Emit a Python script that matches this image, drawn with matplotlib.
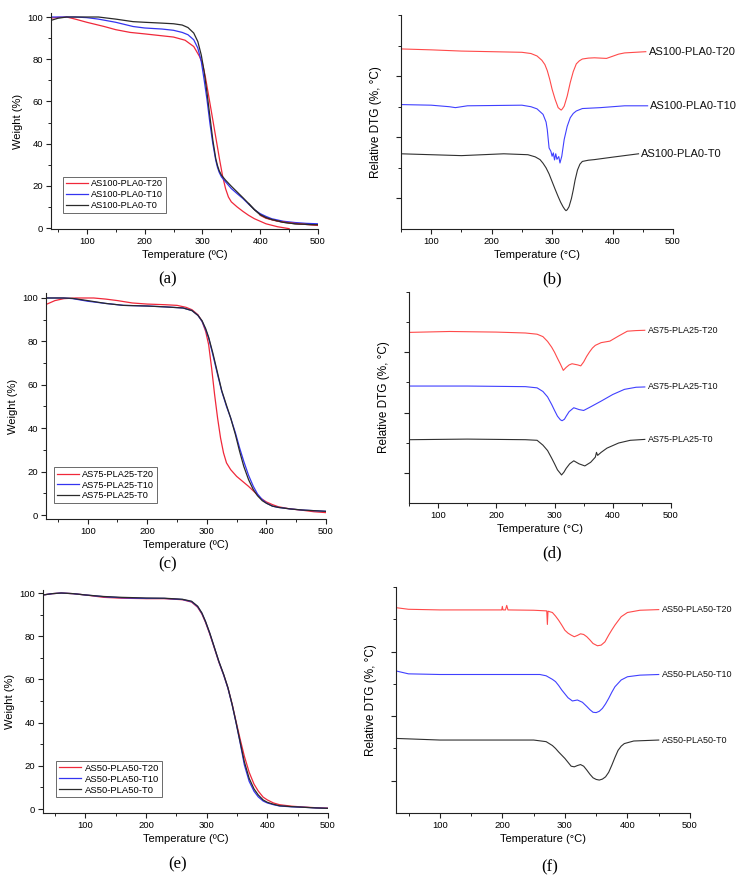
import matplotlib
matplotlib.use('Agg')
import matplotlib.pyplot as plt
from matplotlib.ticker import MultipleLocator, FixedLocator, NullFormatter

plt.rcParams['font.family'] = ['Liberation Sans', 'DejaVu Sans']

RED = '#f0283a'
BLUE = '#3434f0'
BLACK = '#2a2a2a'

# ---------------- Panel (a): TGA AS100-PLA0 ----------------
a_names = ['AS100-PLA0-T20', 'AS100-PLA0-T10', 'AS100-PLA0-T0']
a_T20_t = [38, 50, 65, 80, 100, 130, 150, 175, 200, 250, 270, 285, 295, 300, 305, 310, 315, 320, 325, 330, 335,
           340, 345, 350, 360, 370, 380, 390, 400, 410, 420, 430, 440, 450]
a_T20_w = [99.5, 99.8, 100, 99.0, 97.5, 95.5, 94.0, 92.7, 92.0, 90.5, 89.0, 86.0, 81.3, 78.0, 71.8, 63.9, 56.0, 48.0,
           40.0, 32.0, 24.5, 18.7, 14.7, 12.4, 10.0, 7.9, 6.0, 4.4, 3.2, 2.0, 1.3, 0.6, 0.15, -0.3]
a_T20tail_t = [400, 410, 430, 450, 470, 500]
a_T20tail_w = [6.0, 4.6, 3.2, 2.5, 1.9, 1.2]
a_T10_t = [38, 80, 100, 120, 150, 180, 200, 230, 250, 265, 275, 285, 292, 298, 303, 308, 313, 318, 323, 326, 329,
           333, 340, 350, 360, 370, 380, 390, 400, 410, 420, 440, 460, 480, 500]
a_T10_w = [100, 100, 99.7, 99.0, 97.5, 95.5, 94.8, 94.3, 93.7, 92.7, 91.6, 89.2, 85.3, 79.0, 70.2, 60.7, 49.6, 40.0,
           32.2, 28.8, 26.4, 24.2, 21.9, 18.7, 16.3, 14.0, 11.3, 8.7, 6.8, 5.5, 4.4, 3.2, 2.6, 2.2, 2.0]
a_T0_t = [38, 50, 65, 100, 120, 150, 180, 200, 230, 250, 265, 275, 285, 292, 298, 303, 308, 313, 318, 323, 326, 329,
          333, 340, 350, 360, 370, 380, 390, 400, 410, 420, 440, 460, 480, 500]
a_T0_w = [98.4, 99.4, 100, 100, 100, 99.0, 97.8, 97.5, 97.1, 96.8, 96.2, 95.0, 92.4, 88.4, 82.0, 74.2, 63.9, 52.8,
          41.7, 33.0, 29.7, 27.2, 25.0, 22.7, 19.8, 17.1, 14.4, 11.6, 8.7, 6.3, 4.9, 4.0, 2.7, 2.0, 1.7, 1.5]

# ---------------- Panel (c): TGA AS75-PLA25 ----------------
c_names = ['AS75-PLA25-T20', 'AS75-PLA25-T10', 'AS75-PLA25-T0']
c_T20_t = [30, 45, 60, 80, 110, 130, 150, 175, 200, 230, 250, 265, 275, 285, 292, 298, 303, 308, 313, 318, 323,
           328, 333, 340, 350, 360, 370, 380, 390, 400, 410, 420, 440, 460, 480, 500]
c_T20_w = [97.0, 98.8, 99.7, 100, 100, 99.5, 98.8, 97.7, 97.2, 96.9, 96.6, 95.7, 94.6, 92.3, 89.2, 84.6, 78.5,
           67.7, 55.5, 44.7, 35.5, 28.6, 24.0, 20.9, 17.8, 15.5, 13.2, 10.6, 7.8, 6.0, 4.8, 3.8, 2.8, 2.2, 1.5, 1.1]
c_T10_t = [30, 60, 75, 100, 130, 160, 200, 230, 260, 275, 285, 292, 298, 303, 310, 318, 325, 333, 340, 348, 355,
           362, 370, 378, 385, 393, 400, 410, 420, 440, 460, 480, 500]
c_T10_w = [100, 100, 99.7, 98.5, 97.5, 96.6, 96.3, 95.9, 95.4, 94.2, 92.0, 89.2, 85.4, 81.6, 73.9, 64.7, 57.0,
           50.0, 44.7, 37.8, 30.9, 24.7, 18.3, 13.2, 9.7, 7.1, 5.5, 4.1, 3.5, 2.8, 2.3, 2.0, 1.7]
c_T0_t = [30, 60, 75, 100, 130, 160, 200, 230, 260, 275, 285, 292, 298, 303, 310, 318, 325, 333, 340, 348, 355,
          362, 370, 378, 385, 393, 400, 410, 420, 440, 460, 480, 500]
c_T0_w = [100, 100, 99.8, 98.8, 97.5, 96.6, 96.3, 95.9, 95.4, 94.2, 92.0, 89.5, 85.9, 81.9, 74.7, 65.4, 57.3,
          50.5, 44.7, 37.0, 29.3, 22.4, 16.3, 11.7, 8.9, 6.6, 5.4, 4.1, 3.5, 2.8, 2.3, 2.0, 1.7]

# ---------------- Panel (e): TGA AS50-PLA50 ----------------
e_names = ['AS50-PLA50-T20', 'AS50-PLA50-T10', 'AS50-PLA50-T0']
e_t = [30, 45, 60, 80, 100, 130, 160, 200, 230, 260, 275, 285, 292, 298, 305, 312, 320, 328, 335, 342, 348, 355,
       362, 370, 378, 385, 393, 400, 410, 420, 440, 460, 480, 500]
e_T20_w = [99.1, 99.7, 100, 99.7, 99.1, 98.0, 97.6, 97.4, 97.4, 96.9, 95.8, 93.4, 90.3, 86.4, 81.0, 75.0, 68.0,
           62.0, 56.0, 48.5, 41.0, 32.5, 24.5, 17.0, 11.5, 8.3, 5.5, 4.2, 2.8, 2.0, 1.3, 0.9, 0.6, 0.4]
e_T10_w = [99.1, 99.7, 100, 99.7, 99.1, 98.3, 97.8, 97.5, 97.5, 97.0, 96.0, 93.7, 90.6, 86.7, 81.3, 75.2, 68.2,
           62.0, 55.9, 48.1, 40.4, 30.8, 20.5, 12.8, 8.2, 5.6, 3.7, 2.8, 2.0, 1.4, 1.0, 0.8, 0.5, 0.3]
e_T0_w = [99.1, 99.7, 100, 99.7, 99.1, 98.4, 98.0, 97.7, 97.6, 97.1, 96.2, 93.9, 90.8, 86.9, 81.5, 75.4, 68.4,
          62.3, 56.2, 48.3, 40.6, 31.2, 21.9, 14.2, 9.3, 6.5, 4.2, 3.1, 2.2, 1.5, 1.1, 0.8, 0.5, 0.3]

# ---------------- Panel (b): DTG AS100-PLA0 ----------------
b_T20_t = [50, 100, 150, 200, 250, 265, 275, 283, 288, 292, 296, 300, 305, 310, 313, 315, 317, 320, 325, 330, 335,
           340, 345, 350, 360, 370, 390, 400, 410, 420, 455]
b_T20_v = [5.89, 5.86, 5.82, 5.80, 5.78, 5.74, 5.66, 5.52, 5.38, 5.18, 4.90, 4.57, 4.24, 3.97, 3.92, 3.89, 3.93,
           4.02, 4.35, 4.79, 5.15, 5.40, 5.50, 5.56, 5.59, 5.60, 5.58, 5.65, 5.72, 5.76, 5.80]
b_T10_t = [50, 100, 130, 140, 160, 250, 265, 275, 285, 290, 292, 295, 298, 300, 302, 304, 306, 308, 311, 313, 316,
           320, 325, 330, 335, 340, 350, 380, 420, 458]
b_T10_v = [4.07, 4.05, 4.00, 3.97, 4.03, 4.05, 4.00, 3.93, 3.75, 3.50, 3.25, 2.65, 2.54, 2.38, 2.49, 2.26, 2.46,
           2.28, 2.37, 2.16, 2.38, 2.93, 3.36, 3.64, 3.78, 3.86, 3.94, 3.97, 4.03, 4.03]
b_T0_t = [50, 100, 150, 220, 260, 272, 280, 285, 290, 295, 300, 305, 310, 314, 318, 321, 323, 325, 328, 332, 335,
          338, 342, 346, 350, 360, 370, 400, 443]
b_T0_v = [2.46, 2.43, 2.40, 2.46, 2.43, 2.36, 2.27, 2.15, 2.00, 1.80, 1.55, 1.30, 1.06, 0.88, 0.73, 0.64, 0.60,
          0.63, 0.73, 1.00, 1.28, 1.60, 1.93, 2.12, 2.21, 2.25, 2.27, 2.35, 2.46]

# ---------------- Panel (d): DTG AS75-PLA25 ----------------
d_T20_t = [50, 120, 200, 250, 270, 280, 288, 295, 300, 305, 310, 315, 320, 325, 330, 335, 340, 345, 350, 355, 360,
           365, 370, 380, 395, 410, 425, 440, 455]
d_T20_v = [5.66, 5.69, 5.67, 5.64, 5.60, 5.52, 5.36, 5.17, 5.00, 4.80, 4.61, 4.40, 4.50, 4.58, 4.62, 4.60, 4.58,
           4.55, 4.68, 4.86, 5.01, 5.14, 5.23, 5.32, 5.37, 5.54, 5.70, 5.72, 5.73]
d_T10_t = [50, 150, 250, 270, 280, 288, 295, 300, 305, 310, 313, 317, 320, 325, 333, 342, 350, 360, 380, 400, 420,
           440, 455]
d_T10_v = [3.88, 3.88, 3.86, 3.82, 3.70, 3.52, 3.27, 3.07, 2.88, 2.76, 2.73, 2.78, 2.88, 3.03, 3.16, 3.10, 3.07,
           3.17, 3.38, 3.60, 3.77, 3.84, 3.85]
d_T0_t = [50, 150, 250, 270, 280, 288, 295, 300, 305, 310, 312, 316, 320, 326, 333, 342, 352, 362, 370, 372, 374,
          380, 390, 410, 430, 455]
d_T0_v = [2.10, 2.12, 2.10, 2.08, 1.92, 1.74, 1.49, 1.30, 1.10, 0.98, 0.93, 1.02, 1.15, 1.30, 1.40, 1.30, 1.23,
          1.35, 1.52, 1.68, 1.58, 1.68, 1.82, 1.99, 2.08, 2.11]

# ---------------- Panel (f): DTG AS50-PLA50 ----------------
f_T20_t = [30, 50, 100, 199, 200, 201, 205, 207, 209, 250, 271, 272, 273, 280, 285, 290, 295, 300, 305, 310, 315,
           320, 325, 330, 335, 340, 345, 352, 358, 364, 370, 375, 380, 390, 400, 420, 450]
f_T20_v = [6.36, 6.31, 6.29, 6.29, 6.40, 6.29, 6.29, 6.43, 6.29, 6.28, 6.26, 5.84, 6.25, 6.21, 6.10, 5.97, 5.82,
           5.66, 5.57, 5.51, 5.46, 5.50, 5.55, 5.53, 5.46, 5.36, 5.25, 5.18, 5.20, 5.30, 5.51, 5.67, 5.82, 6.08, 6.21,
           6.28, 6.30]
f_T10_t = [30, 50, 100, 260, 270, 280, 285, 290, 295, 300, 305, 312, 320, 328, 335, 340, 345, 350, 355, 360, 365,
           370, 375, 380, 390, 400, 420, 450]
f_T10_v = [4.40, 4.31, 4.29, 4.29, 4.25, 4.14, 4.07, 3.95, 3.81, 3.69, 3.57, 3.47, 3.50, 3.43, 3.30, 3.20, 3.12,
           3.11, 3.15, 3.24, 3.38, 3.55, 3.74, 3.91, 4.12, 4.22, 4.27, 4.29]
f_T0_t = [30, 100, 250, 270, 280, 285, 290, 295, 300, 305, 310, 315, 320, 325, 330, 335, 340, 345, 350, 355, 360,
          365, 370, 375, 380, 385, 390, 395, 410, 450]
f_T0_v = [2.31, 2.26, 2.26, 2.21, 2.09, 2.00, 1.89, 1.79, 1.69, 1.57, 1.45, 1.43, 1.47, 1.50, 1.45, 1.33, 1.20,
          1.09, 1.04, 1.02, 1.05, 1.12, 1.26, 1.48, 1.72, 1.94, 2.07, 2.15, 2.23, 2.26]

W, H = 740, 875
fig = plt.figure(figsize=(W / 100, H / 100), dpi=100)


def ax_px(l, t, r, b):
    return fig.add_axes([l / W, 1 - b / H, (r - l) / W, (b - t) / H])


def style(ax, tick_fs=6.8):
    for s in ('top', 'right'):
        ax.spines[s].set_visible(False)
    for s in ('left', 'bottom'):
        ax.spines[s].set_linewidth(0.8)
        ax.spines[s].set_color('#222222')
    ax.tick_params(which='major', direction='out', length=3.5, width=0.8, labelsize=tick_fs, color='#222222', pad=2)
    ax.tick_params(which='minor', direction='out', length=2, width=0.7, color='#222222')
    ax.xaxis.set_major_locator(MultipleLocator(100))
    ax.xaxis.set_minor_locator(MultipleLocator(50))


def tga(ax, xlim, ylim, names, series, legend_bbox, legend_fs=6.6):
    style(ax)
    cols = [RED, BLUE, BLACK]
    for (t, w), c, n in zip(series, cols, names):
        ax.plot(t, w, color=c, lw=0.9, label=n)
    ax.set_xlim(*xlim)
    ax.set_ylim(*ylim)
    ax.yaxis.set_major_locator(MultipleLocator(20))
    ax.yaxis.set_minor_locator(MultipleLocator(10))
    ax.set_ylabel('Weight (%)', fontsize=8, labelpad=3)
    ax.set_xlabel('Temperature (ºC)', fontsize=8, labelpad=3)
    leg = ax.legend(loc='lower left', bbox_to_anchor=legend_bbox, fontsize=legend_fs, frameon=True, fancybox=False,
                    handlelength=2.4, handletextpad=0.35, borderpad=0.3, labelspacing=0.2, borderaxespad=0)
    leg.get_frame().set_edgecolor('#444444')
    leg.get_frame().set_linewidth(0.7)


def dtg(ax, xlim, names, series, label_fs):
    style(ax)
    cols = ['#ff4a4a', '#4040ff', '#303030']
    for (t, v), c, n in zip(series, cols, names):
        ax.plot(t, v, color=c, lw=0.8)
        ax.annotate(n, xy=(t[-1], v[-1]), xytext=(2, 0), textcoords='offset points', ha='left', va='center',
                    fontsize=label_fs, color='#111111', annotation_clip=False)
    ax.set_xlim(*xlim)
    ax.set_ylim(0, 7)
    ax.yaxis.set_major_locator(FixedLocator([1, 3, 5]))
    ax.yaxis.set_minor_locator(FixedLocator([2, 4, 6, 7]))
    ax.yaxis.set_major_formatter(NullFormatter())
    ax.set_ylabel('Relative DTG (%, °C)', fontsize=8.5, labelpad=8)
    ax.set_xlabel('Temperature (°C)', fontsize=8, labelpad=3)


# (a)
axa = ax_px(51, 13, 318, 229)
tga(axa, (38, 500), (-0.47, 101.9), a_names,
    [(a_T20_t, a_T20_w), (a_T10_t, a_T10_w), (a_T0_t, a_T0_w)], (0.045, 0.075))
axa.plot(a_T20tail_t, a_T20tail_w, color=RED, lw=0.9)
axa.plot(a_T0_t[-9:], a_T0_w[-9:], color=BLACK, lw=0.9)

# (b)
axb = ax_px(401, 15, 673, 229)
dtg(axb, (50, 500), a_names, [(b_T20_t, b_T20_v), (b_T10_t, b_T10_v), (b_T0_t, b_T0_v)], 8)

# (c)
axc = ax_px(46, 293, 326, 519)
tga(axc, (30, 500), (-1.84, 102.3), c_names,
    [(c_T20_t, c_T20_w), (c_T10_t, c_T10_w), (c_T0_t, c_T0_w)], (0.03, 0.07))

# (d)
axd = ax_px(409, 292, 671, 503)
dtg(axd, (50, 500), c_names, [(d_T20_t, d_T20_v), (d_T10_t, d_T10_v), (d_T0_t, d_T0_v)], 6.5)

# (e)
axe = ax_px(43, 590, 328, 813)
tga(axe, (30, 500), (-1.85, 101.4), e_names,
    [(e_t, e_T20_w), (e_t, e_T10_w), (e_t, e_T0_w)], (0.045, 0.07), legend_fs=6.8)

# (f)
axf = ax_px(396, 587, 690, 813)
dtg(axf, (30, 500), e_names, [(f_T20_t, f_T20_v), (f_T10_t, f_T10_v), (f_T0_t, f_T0_v)], 6.5)

# panel letters
for lab, x, y in [('(a)', 168, 279), ('(b)', 552, 279), ('(c)', 168, 564), ('(d)', 552, 553),
                  ('(e)', 178, 864), ('(f)', 550, 867)]:
    fig.text(x / W, 1 - y / H, lab, ha='center', va='center', fontsize=12, family=['Liberation Serif', 'DejaVu Serif'])

fig.savefig('out.png', dpi=100)
